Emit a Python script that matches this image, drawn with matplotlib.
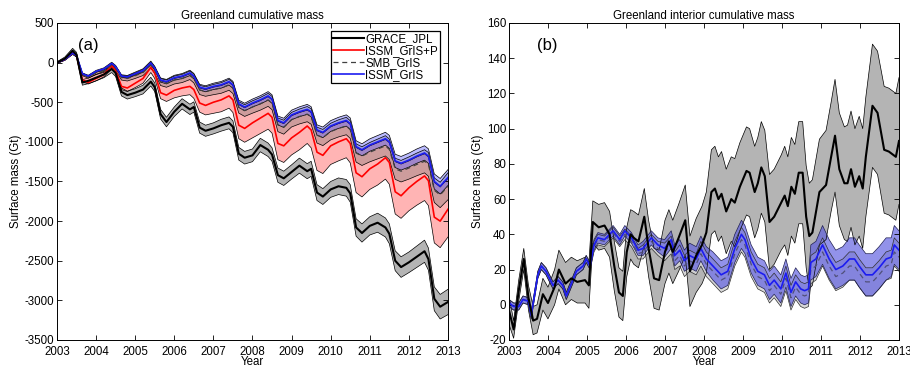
import matplotlib.pyplot as plt
import numpy as np

plt.rcParams['font.family'] = ['Liberation Sans', 'DejaVu Sans']
plt.rcParams['font.size'] = 8.3
plt.rcParams['axes.unicode_minus'] = False

# ---- panel (a): whole ice sheet, 6 samples per year ----
years = np.arange(2003, 2013)
offsets = [0.0, 0.2, 0.4, 0.5, 0.65, 0.8]
t_a = np.append((years[:, None] + np.array(offsets)).ravel(), 2013.0)

grace = [0, 50, 150, 100, -250, -230,
         -190, -150, -80, -130, -370, -410,
         -380, -340, -240, -310, -650, -750,
         -620, -520, -590, -560, -820, -860,
         -830, -790, -760, -810, -1150, -1200,
         -1170, -1040, -1100, -1160, -1420, -1460,
         -1380, -1300, -1370, -1340, -1640, -1690,
         -1600, -1560, -1580, -1650, -2080, -2150,
         -2060, -2020, -2080, -2160, -2500, -2580,
         -2520, -2450, -2380, -2480, -2980, -3080,
         -3020]
grace_err = [10, 20, 30, 30, 35, 35,
             40, 40, 45, 45, 50, 50,
             50, 55, 55, 55, 60, 60,
             60, 65, 65, 65, 70, 70,
             70, 75, 75, 75, 80, 80,
             80, 85, 85, 85, 90, 90,
             90, 95, 95, 95, 100, 100,
             100, 105, 105, 110, 110, 115,
             115, 120, 120, 125, 125, 130,
             130, 135, 140, 140, 150, 155,
             160]

issm_p = [0, 40, 120, 90, -220, -250,
          -200, -150, -40, -100, -300, -320,
          -260, -200, -60, -130, -380, -410,
          -350, -320, -300, -340, -510, -540,
          -500, -470, -420, -470, -790, -830,
          -760, -700, -640, -690, -1020, -1050,
          -950, -880, -800, -850, -1130, -1170,
          -1050, -1000, -960, -1020, -1390, -1440,
          -1340, -1280, -1200, -1260, -1630, -1680,
          -1580, -1500, -1430, -1490, -1950, -2000,
          -1850]
issm_p_lo = [-10, 30, 105, 75, -240, -270,
             -230, -180, -75, -135, -340, -365,
             -315, -260, -125, -200, -455, -490,
             -445, -420, -405, -450, -625, -660,
             -640, -620, -575, -630, -960, -1005,
             -950, -895, -840, -890, -1225, -1260,
             -1165, -1100, -1020, -1075, -1360, -1400,
             -1285, -1240, -1200, -1265, -1640, -1695,
             -1600, -1545, -1470, -1535, -1910, -1965,
             -1870, -1800, -1740, -1805, -2275, -2335,
             -2200]
issm_p_hi = [0, 40, 120, 90, -150, -175,
             -120, -90, -20, -60, -180, -190,
             -150, -110, -15, -80, -230, -250,
             -200, -180, -140, -180, -320, -340,
             -310, -290, -250, -290, -530, -570,
             -520, -480, -430, -470, -740, -770,
             -670, -630, -600, -630, -860, -890,
             -810, -770, -740, -780, -1070, -1110,
             -1050, -1010, -970, -1010, -1250, -1280,
             -1240, -1190, -1150, -1190, -1510, -1570,
             -1460]

smb = [0, 38, 115, 85, -150, -180,
       -130, -100, -30, -70, -190, -200,
       -165, -125, -30, -95, -245, -265,
       -220, -200, -160, -200, -345, -365,
       -340, -320, -280, -320, -565, -605,
       -560, -520, -470, -510, -785, -815,
       -720, -680, -650, -680, -915, -945,
       -870, -830, -800, -845, -1140, -1180,
       -1130, -1090, -1050, -1095, -1340, -1370,
       -1330, -1285, -1245, -1285, -1610, -1670,
       -1560]
smb_err = [5, 10, 12, 14, 15, 16,
           20, 24, 26, 28, 30, 32,
           35, 38, 40, 42, 44, 46,
           50, 52, 54, 56, 58, 60,
           65, 67, 69, 70, 72, 74,
           78, 80, 82, 84, 86, 88,
           92, 94, 96, 98, 100, 102,
           105, 108, 110, 112, 115, 118,
           122, 125, 128, 130, 133, 136,
           140, 143, 146, 150, 155, 160,
           170]

issm = [0, 40, 120, 90, -140, -170,
        -110, -80, -10, -50, -170, -180,
        -140, -100, -5, -70, -220, -240,
        -190, -170, -130, -170, -310, -330,
        -300, -280, -240, -280, -520, -560,
        -510, -470, -420, -460, -730, -760,
        -660, -620, -590, -620, -850, -880,
        -800, -760, -730, -770, -1060, -1100,
        -1040, -1000, -960, -1000, -1240, -1270,
        -1230, -1180, -1140, -1180, -1500, -1560,
        -1450]
issm_err = [3, 5, 8, 8, 10, 10,
            12, 14, 15, 15, 17, 18,
            20, 22, 24, 24, 26, 28,
            30, 32, 34, 34, 36, 38,
            40, 42, 44, 44, 46, 48,
            50, 52, 54, 54, 56, 58,
            60, 62, 63, 64, 65, 67,
            68, 70, 71, 72, 74, 76,
            78, 80, 81, 82, 84, 86,
            88, 90, 91, 92, 95, 98,
            100]

# ---- panel (b): interior ----
t_gi = [2003.00, 2003.12, 2003.25, 2003.38, 2003.50, 2003.62, 2003.72, 2003.87,
        2004.00, 2004.17, 2004.28, 2004.45, 2004.60, 2004.75, 2004.95, 2005.05,
        2005.15, 2005.30, 2005.45, 2005.58, 2005.70, 2005.82, 2005.92, 2006.02,
        2006.12, 2006.20, 2006.32, 2006.47, 2006.58, 2006.72, 2006.85, 2007.00,
        2007.10, 2007.20, 2007.35, 2007.52, 2007.64, 2007.80, 2007.95, 2008.06,
        2008.19, 2008.28, 2008.37, 2008.45, 2008.57, 2008.70, 2008.79, 2008.92,
        2009.09, 2009.17, 2009.30, 2009.38, 2009.47, 2009.56, 2009.68, 2009.80,
        2009.98, 2010.07, 2010.15, 2010.24, 2010.33, 2010.43, 2010.53, 2010.62,
        2010.70, 2010.78, 2010.96, 2011.13, 2011.26, 2011.36, 2011.47, 2011.60,
        2011.68, 2011.77, 2011.87, 2011.98, 2012.07, 2012.15, 2012.32, 2012.45,
        2012.62, 2012.74, 2012.92, 2013.00]
grace_int = [-3, -14, 8, 26, 4, -9, -8, 6,
             1, 10, 20, 12, 15, 13, 14, 11,
             47, 44, 45, 40, 22, 7, 5, 30,
             40, 38, 36, 50, 32, 15, 14, 30,
             36, 30, 38, 48, 19, 28, 34, 41,
             64, 66, 60, 63, 53, 60, 58, 67,
             76, 75, 64, 69, 78, 73, 47, 50,
             58, 62, 56, 67, 63, 75, 75, 50,
             39, 41, 64, 68, 84, 96, 77, 69,
             69, 77, 67, 73, 66, 84, 113, 109,
             88, 87, 84, 93]
grace_int_err = [8, 5, 6, 6, 7, 8, 8, 9,
                 9, 10, 11, 12, 12, 12, 13, 13,
                 12, 13, 13, 13, 14, 14, 14, 14,
                 14, 15, 15, 16, 16, 17, 17, 18,
                 18, 18, 19, 20, 20, 21, 22, 23,
                 24, 24, 24, 24, 24, 24, 25, 25,
                 25, 25, 26, 26, 26, 26, 27, 27,
                 27, 28, 28, 28, 28, 29, 29, 29,
                 30, 30, 30, 31, 31, 32, 32, 32,
                 33, 33, 33, 34, 34, 34, 35, 35,
                 36, 36, 36, 36]

t_mi = [2003.00, 2003.12, 2003.25, 2003.36, 2003.50, 2003.57, 2003.74, 2003.83,
        2003.95, 2004.13, 2004.26, 2004.38, 2004.47, 2004.60, 2004.73, 2004.90,
        2004.98, 2005.08, 2005.18, 2005.28, 2005.45, 2005.67, 2005.84, 2005.97,
        2006.14, 2006.31, 2006.44, 2006.65, 2006.82, 2006.99, 2007.16, 2007.25,
        2007.38, 2007.50, 2007.63, 2007.80, 2007.92, 2008.06, 2008.23, 2008.44,
        2008.61, 2008.79, 2008.96, 2009.05, 2009.21, 2009.38, 2009.55, 2009.68,
        2009.80, 2009.97, 2010.10, 2010.23, 2010.35, 2010.48, 2010.58, 2010.68,
        2010.74, 2010.87, 2011.04, 2011.21, 2011.38, 2011.56, 2011.73, 2011.86,
        2011.98, 2012.15, 2012.32, 2012.49, 2012.67, 2012.80, 2012.88, 2013.00]
issm_int = [1, -1, -1, 3, 2, -6, 17, 22,
            19, 11, 14, 11, 5, 12, 19, 22,
            26, 22, 34, 38, 37, 42, 37, 42,
            38, 31, 32, 38, 34, 32, 37, 28,
            31, 25, 28, 26, 32, 26, 22, 17,
            19, 32, 40, 37, 26, 19, 17, 11,
            14, 9, 18, 7, 13, 9, 8, 9,
            24, 26, 34, 26, 20, 22, 26, 26,
            22, 17, 17, 21, 26, 27, 34, 31]
issm_int_err = [2, 2, 2, 2, 2, 2, 2, 2,
                2, 2, 2, 2, 2, 2, 2, 2,
                2, 2, 3, 3, 3, 3, 3, 3,
                3, 3, 4, 4, 4, 5, 5, 6,
                6, 6, 7, 7, 7, 7, 8, 8,
                8, 8, 8, 8, 8, 8, 8, 8,
                8, 8, 8, 8, 8, 8, 8, 8,
                10, 10, 11, 11, 11, 11, 12, 12,
                12, 12, 12, 12, 12, 11, 11, 11]
smb_int = [1, -1, -1, 3, 2, -6, 17, 22,
           19, 11, 14, 11, 5, 12, 19, 22,
           26, 22, 33, 37, 36, 41, 36, 40,
           36, 29, 30, 36, 32, 30, 34, 25,
           28, 22, 25, 23, 29, 23, 19, 14,
           16, 29, 37, 34, 23, 16, 14, 8,
           11, 6, 15, 4, 10, 6, 5, 6,
           20, 22, 30, 22, 16, 18, 22, 22,
           18, 13, 13, 17, 22, 23, 30, 27]
smb_int_err = [2, 2, 2, 2, 2, 2, 2, 2,
               2, 2, 2, 2, 2, 2, 2, 2,
               2, 2, 3, 3, 3, 3, 3, 3,
               3, 3, 4, 4, 4, 5, 5, 5,
               6, 6, 6, 6, 7, 7, 7, 7,
               7, 7, 7, 7, 7, 7, 7, 7,
               7, 7, 7, 7, 7, 7, 7, 7,
               8, 8, 8, 8, 8, 8, 8, 8,
               8, 8, 8, 8, 8, 8, 8, 8]

c_grey = '#b4b4b4'
c_pink = '#ffb4b4'
c_blue = '#1c1cf0'


def band(ax, t, lo, hi, color, alpha=1.0, edge='k'):
    ax.fill_between(t, lo, hi, facecolor=color, alpha=alpha, lw=0)
    ax.plot(t, lo, color=edge, lw=0.5)
    ax.plot(t, hi, color=edge, lw=0.5)


def style(ax, title, ylim, yticks):
    ax.set_xlim(2003, 2013)
    ax.set_ylim(*ylim)
    ax.set_xticks(range(2003, 2014))
    ax.set_yticks(yticks)
    ax.tick_params(direction='in', top=True, right=True, length=3.5,
                   width=0.6, labelsize=8.3, pad=2)
    ax.tick_params(axis='x', pad=4)
    for s in ax.spines.values():
        s.set_linewidth(0.7)
    ax.set_title(title, fontsize=8.3, pad=3)
    ax.set_xlabel('Year', labelpad=-1)
    ax.set_ylabel('Surface mass (Gt)', labelpad=2)


fig = plt.figure(figsize=(9.1, 3.69), dpi=100)
ax1 = fig.add_axes([0.0626, 0.0786, 0.4297, 0.8591])
ax2 = fig.add_axes([0.5593, 0.0786, 0.4286, 0.8591])

# panel (a)
g = np.array(grace)
ge = np.array(grace_err)
band(ax1, t_a, g - ge, g + ge, c_grey)
band(ax1, t_a, issm_p_lo, issm_p_hi, c_pink)
s = np.array(smb)
se = np.array(smb_err)
band(ax1, t_a, s - se, s + se, '#707070', alpha=0.35)
b = np.array(issm)
be = np.array(issm_err)
band(ax1, t_a, b - be, b + be, '#6a6aff', alpha=0.45)
ax1.plot(t_a, issm_p, color='#ff0000', lw=1.2, label='ISSM_GrIS+P')
ax1.plot(t_a, smb, color='#404040', lw=0.9, ls=(0, (4, 3)), label='SMB_GrIS')
ax1.plot(t_a, issm, color=c_blue, lw=1.2, label='ISSM_GrIS')
ax1.plot(t_a, grace, color='k', lw=1.5, label='GRACE_JPL')
style(ax1, 'Greenland cumulative mass', (-3500, 500), range(-3500, 501, 500))
h, l = ax1.get_legend_handles_labels()
order = [3, 0, 1, 2]
leg = ax1.legend([h[i] for i in order], [l[i] for i in order], loc='upper right',
                 fancybox=False, edgecolor='k', framealpha=1, borderpad=0.15,
                 labelspacing=0.0, handlelength=2.7, handletextpad=0.1,
                 borderaxespad=0.7, fontsize=8.3)
leg.get_frame().set_linewidth(0.9)
ax1.text(0.054, 0.93, '(a)', transform=ax1.transAxes, fontsize=12, va='center')

# panel (b)
gi = np.array(grace_int)
gie = np.array(grace_int_err)
band(ax2, t_gi, gi - gie, gi + gie, c_grey)
si = np.array(smb_int)
sie = np.array(smb_int_err)
band(ax2, t_mi, si - sie, si + sie, '#d4d4d4', alpha=0.9, edge='#303030')
bi = np.array(issm_int)
bie = np.array(issm_int_err)
band(ax2, t_mi, bi - bie, bi + bie, '#5858e0', alpha=0.65, edge='#202050')
ax2.plot(t_mi, smb_int, color='#505078', lw=0.9, ls=(0, (4, 3)))
ax2.plot(t_mi, issm_int, color=c_blue, lw=1.2)
ax2.plot(t_gi, grace_int, color='k', lw=1.5)
style(ax2, 'Greenland interior cumulative mass', (-20, 160), range(-20, 161, 20))
ax2.text(0.072, 0.93, '(b)', transform=ax2.transAxes, fontsize=12, va='center')

fig.savefig('out.png', dpi=100)
